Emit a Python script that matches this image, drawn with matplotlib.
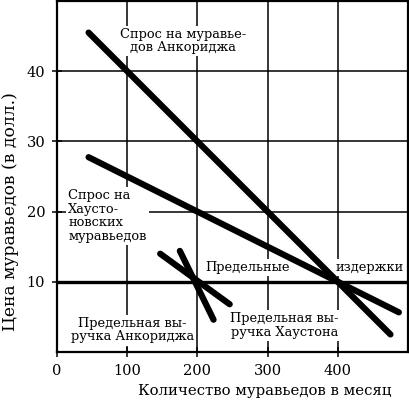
"""
Anteater demand in Anchorage and Houston: demand, marginal revenue and marginal cost.
"""

import matplotlib.pyplot as plt

# demand and marginal revenue lines (quantity, price) endpoints
anch_demand_q = [45, 475]
anch_demand_p = [45.5, 2.5]
hous_demand_q = [45, 487]
hous_demand_p = [27.75, 5.65]
anch_mr_q = [175, 223]
anch_mr_p = [14.4, 4.6]
hous_mr_q = [147, 246]
hous_mr_p = [14.0, 6.8]
marginal_cost = 10

x_ticks = [0, 100, 200, 300, 400]
y_ticks = [10, 20, 30, 40]

SERIF = ["DejaVu Serif"]


def main() -> None:
    plt.rcParams["font.family"] = SERIF
    fig = plt.figure(figsize=(4.10, 4.04), dpi=100)
    ax = fig.add_axes([57 / 410, 52 / 404, 351 / 410, 351 / 404])

    ax.set_xlim(0, 500)
    ax.set_ylim(0, 50)
    ax.set_xticks(x_ticks)
    ax.set_yticks(y_ticks)
    ax.grid(True, color="black", linewidth=1.1, zorder=1)
    ax.tick_params(direction="inout", length=7, width=1.1, labelsize=10.5, pad=5)
    for spine in ax.spines.values():
        spine.set_linewidth(1.6)

    thick = dict(color="black", linewidth=4.5, solid_capstyle="round", zorder=4)
    ax.plot(anch_demand_q, anch_demand_p, **thick)
    ax.plot(hous_demand_q, hous_demand_p, **thick)
    ax.plot(anch_mr_q, anch_mr_p, **thick)
    ax.plot(hous_mr_q, hous_mr_p, **thick)
    ax.axhline(marginal_cost, color="black", linewidth=2.4, zorder=4)

    box = dict(facecolor="white", edgecolor="none", pad=1.5)
    txt = dict(fontsize=9.4, zorder=3, bbox=box, linespacing=1.05)
    ax.text(180, 44.3, "Спрос на муравье-\nдов Анкориджа", ha="center", va="center", **txt)
    ax.text(16, 19.4, "Спрос на\nХаусто-\nновских\nмуравьедов", ha="left", va="center", **txt)
    ax.text(211, 12.0, "Предельные", ha="left", va="center", **txt)
    ax.text(397, 12.0, "издержки", ha="left", va="center", **txt)
    ax.text(107, 3.1, "Предельная вы-\nручка Анкориджа", ha="center", va="center", **txt)
    ax.text(324, 3.8, "Предельная вы-\nручка Хаустона", ha="center", va="center", **txt)

    ax.set_xlabel("Количество муравьедов в месяц", fontsize=10.7)
    ax.xaxis.set_label_coords(0.593, -0.092)
    ax.set_ylabel("Цена муравьедов (в долл.)", fontsize=12.3)
    ax.yaxis.set_label_coords(-0.108, 0.40)

    fig.savefig("out.png", dpi=100)
    plt.close(fig)


if __name__ == "__main__":
    main()
